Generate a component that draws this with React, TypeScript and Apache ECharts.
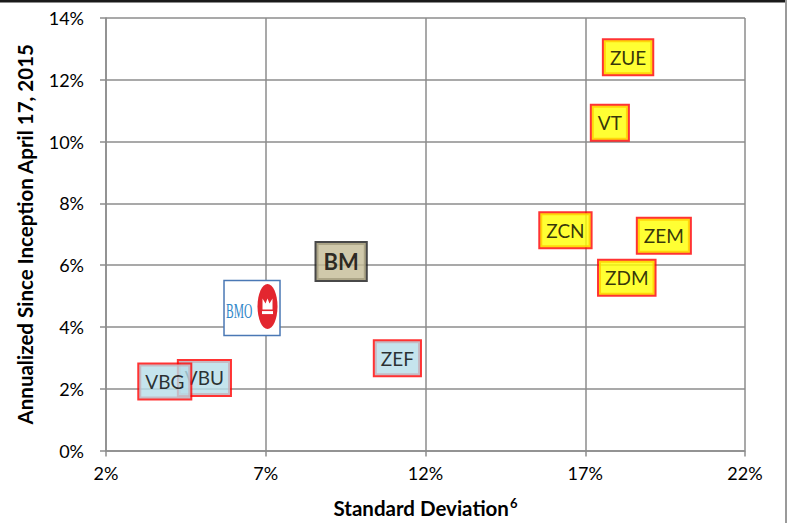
import React, { useEffect, useRef } from "react";
import * as echarts from "echarts";

const xTicks = [2, 7, 12, 17, 22];
const yTicks = [0, 2, 4, 6, 8, 10, 12, 14];

const yellowNames = ["ZUE", "VT", "ZCN", "ZEM", "ZDM"];
const yellowX = [18.34, 17.77, 16.38, 19.46, 18.3];
const yellowY = [12.73, 10.61, 7.13, 6.95, 5.59];

const blueNames = ["ZEF", "VBU", "VBG"];
const blueX = [11.12, 5.08, 3.84];
const blueY = [2.99, 2.35, 2.23];

const bmNames = ["BM"];
const bmX = [9.36];
const bmY = [6.12];

const bmoX = [6.57];
const bmoY = [4.61];

const FONT = "Lato, 'Open Sans', sans-serif";

export default function App() {
  const ref = useRef<HTMLDivElement>(null);
  useEffect(() => {
    if (!ref.current) return;
    const chart = echarts.init(ref.current, undefined, { renderer: "svg" });
    const gridColor = "#8c8c8c";
    const labelBase = {
      show: true,
      position: "inside",
      fontFamily: FONT,
      fontSize: 19,
      color: "#000",
      padding: [8, 6, 7, 6],
      borderWidth: 2,
      formatter: (p: any) => p.name,
    };
    const mk = (names: string[], xs: number[], ys: number[]) =>
      names.map((n, i) => ({ name: n, value: [xs[i], ys[i]] }));
    const option: any = {
      animation: false,
      textStyle: { fontFamily: FONT },
      grid: { left: 106, right: 44, top: 18, bottom: 71, containLabel: false },
      xAxis: {
        type: "value",
        min: xTicks[0],
        max: xTicks[xTicks.length - 1],
        interval: 5,
        name: "{b|Standard Deviation}{s|6}",
        nameLocation: "middle",
        nameGap: 46,
        nameTextStyle: {
          rich: {
            b: { fontFamily: FONT, fontSize: 20.5, fontWeight: "bold", color: "#000" },
            s: { fontFamily: FONT, fontSize: 13, fontWeight: "bold", color: "#000", verticalAlign: "top", padding: [0, 0, 9, 1] },
          },
        },
        axisLine: { show: true, lineStyle: { color: gridColor, width: 1.5 } },
        axisTick: { show: true, length: 6, lineStyle: { color: gridColor, width: 1.5 } },
        axisLabel: { fontFamily: FONT, fontSize: 18, color: "#000", margin: 13, formatter: (v: number) => v + "%" },
        splitLine: { show: true, lineStyle: { color: gridColor, width: 1.5 } },
      },
      yAxis: {
        type: "value",
        min: yTicks[0],
        max: yTicks[yTicks.length - 1],
        interval: 2,
        name: "Annualized Since Inception April 17, 2015",
        nameLocation: "middle",
        nameGap: 71,
        nameTextStyle: { fontFamily: FONT, fontSize: 20.5, fontWeight: "bold", color: "#000" },
        axisLine: { show: true, lineStyle: { color: gridColor, width: 1.5 } },
        axisTick: { show: true, length: 6, lineStyle: { color: gridColor, width: 1.5 } },
        axisLabel: { fontFamily: FONT, fontSize: 18, color: "#000", margin: 22, formatter: (v: number) => v + "%" },
        splitLine: { show: true, lineStyle: { color: gridColor, width: 1.5 } },
      },
      graphic: [
        { type: "rect", shape: { x: 0, y: 0, width: 787, height: 2.5 }, style: { fill: "#1a1a1a" }, silent: true },
        { type: "rect", shape: { x: 785, y: 0, width: 2, height: 523 }, style: { fill: "#9a9a9a" }, silent: true },
      ],
      series: [
        {
          type: "custom",
          data: bmoX.map((x, i) => [x, bmoY[i]]),
          renderItem: (params: any, api: any) => {
            const c = api.coord([api.value(0), api.value(1)]);
            const cx = c[0];
            const cy = c[1];
            const rx = cx + 15.5;
            const ry = cy - 1.5;
            return {
              type: "group",
              children: [
                { type: "rect", shape: { x: cx - 28, y: cy - 27.5, width: 56, height: 55 }, style: { fill: "#fff", stroke: "#4a78b5", lineWidth: 1.5 } },
                {
                  type: "text",
                  x: cx - 26,
                  y: cy + 3,
                  scaleY: 1.75,
                  style: { x: 0, y: 0, text: "BMO", fontFamily: "'Liberation Serif', serif", fontSize: 11.5, fill: "#2f86c8", verticalAlign: "middle" },
                },
                { type: "ellipse", shape: { cx: rx, cy: ry, rx: 10, ry: 22.5 }, style: { fill: "#e3262f" } },
                { type: "polygon", shape: { points: [[rx - 5, ry + 3], [rx - 5, ry - 8], [rx - 2, ry - 3], [rx, ry - 8], [rx + 2, ry - 3], [rx + 5, ry - 8], [rx + 5, ry + 3]] }, style: { fill: "#fff" } },
                { type: "rect", shape: { x: rx - 5.5, y: ry + 4.5, width: 11, height: 3 }, style: { fill: "#fff" } },
              ],
            };
          },
          z: 3,
        },
        {
          type: "scatter",
          symbolSize: 0,
          data: mk(bmNames, bmX, bmY),
          label: { ...labelBase, fontWeight: "bold", fontSize: 22, backgroundColor: "#c4bc96", borderColor: "#1a1a1a", padding: [8, 7, 7, 7] },
          z: 4,
        },
        {
          type: "scatter",
          symbolSize: 0,
          data: mk(blueNames, blueX, blueY),
          label: { ...labelBase, backgroundColor: "#b7dde8", borderColor: "#ff0000" },
          z: 4,
        },
        {
          type: "scatter",
          symbolSize: 0,
          data: mk(yellowNames, yellowX, yellowY),
          label: { ...labelBase, backgroundColor: "#ffff00", borderColor: "#ff0000" },
          z: 4,
        },
      ],
    };
    chart.setOption(option);
    return () => chart.dispose();
  }, []);
  return <div ref={ref} style={{ position: "absolute", left: 0, top: 0, width: 789, height: 523 }} />;
}
